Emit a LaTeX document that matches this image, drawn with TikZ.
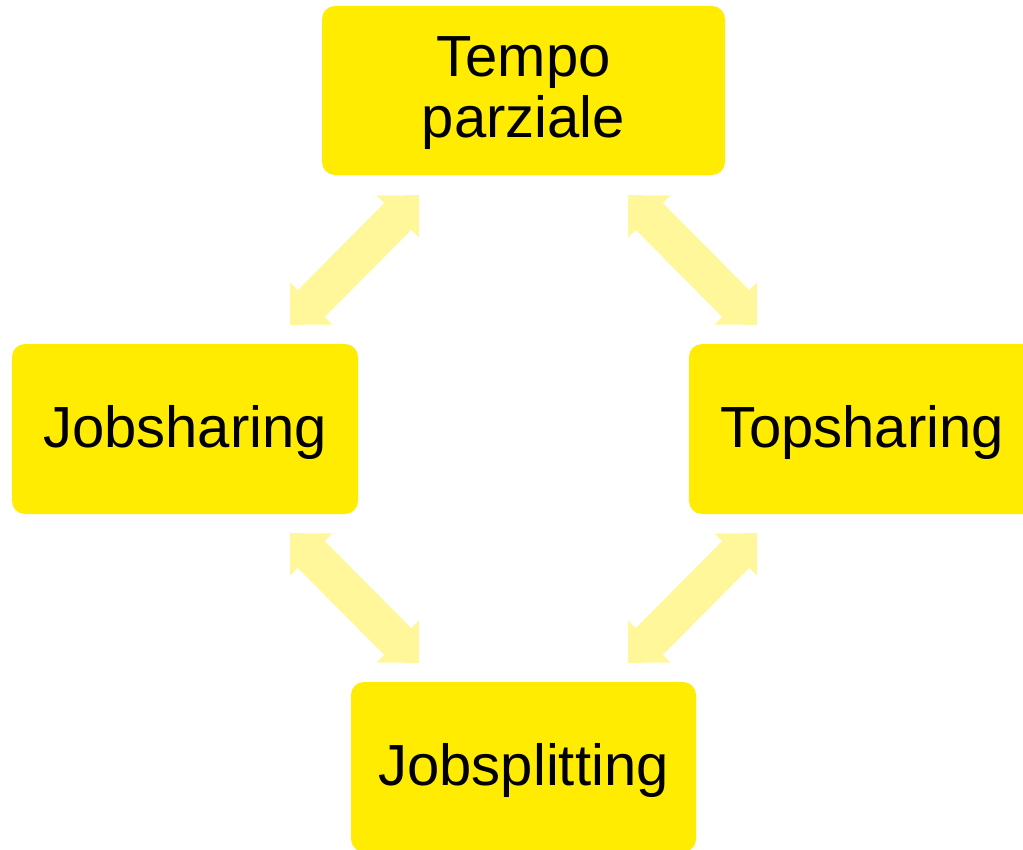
\documentclass[tikz,border=0pt]{standalone}
\usepackage{fontspec}
\setmainfont{Liberation Sans}
\usepackage{xcolor}
\usepackage{tikz}
\usetikzlibrary{calc}
\definecolor{boxyellow}{HTML}{FFEC00}
\definecolor{arrowyellow}{HTML}{FFF799}
\tikzset{
  box/.style={fill=boxyellow, rounded corners=13pt, align=center, inner sep=0pt,
    minimum width=346pt, minimum height=170pt, text depth=6pt,
    font=\fontsize{58}{61}\selectfont},
  fatarrow/.style={fill=arrowyellow}
}
% double block arrow between two named points
\newcommand{\dblarrow}[3]{%
  \path ($(#1)!30pt!(#2)$) coordinate (#3h) ($(#2)!30pt!(#1)$) coordinate (#3k);
  \fill[fatarrow] (#1) -- ($(#3h)!30pt!90:(#2)$) -- ($(#3h)!19pt!90:(#2)$)
    -- ($(#3k)!19pt!-90:(#1)$) -- ($(#3k)!30pt!-90:(#1)$) -- (#2)
    -- ($(#3k)!30pt!90:(#1)$) -- ($(#3k)!19pt!90:(#1)$)
    -- ($(#3h)!19pt!-90:(#2)$) -- ($(#3h)!30pt!-90:(#2)$) -- cycle;}

\begin{document}
\begin{tikzpicture}[x=1pt, y=-1pt]
  \clip (0,0) rectangle (1023,850);
  % boxes
  \node[box, minimum width=403pt, minimum height=169pt] (tempo) at (523.5,90.5) {Tempo\\parziale};
  \node[box] (job) at (185,429) {Jobsharing};
  \node[box] (top) at (862,429) {Topsharing};
  \node[box, minimum width=345pt] (split) at (523.5,767) {Jobsplitting};

  % arrow ends
  \coordinate (tl1) at ($(tempo.south west)+(97,20)$);
  \coordinate (tl2) at ($(job.north east)+(-68,-19)$);
  \coordinate (tr1) at ($(tempo.south east)+(-97,20)$);
  \coordinate (tr2) at ($(top.north west)+(68,-19)$);
  \coordinate (bl1) at ($(job.south east)+(-68,19)$);
  \coordinate (bl2) at ($(split.north west)+(68,-19)$);
  \coordinate (br1) at ($(top.south west)+(68,19)$);
  \coordinate (br2) at ($(split.north east)+(-68,-19)$);

  \dblarrow{tl1}{tl2}{tl}
  \dblarrow{tr1}{tr2}{tr}
  \dblarrow{bl1}{bl2}{bl}
  \dblarrow{br1}{br2}{br}
\end{tikzpicture}
\end{document}
